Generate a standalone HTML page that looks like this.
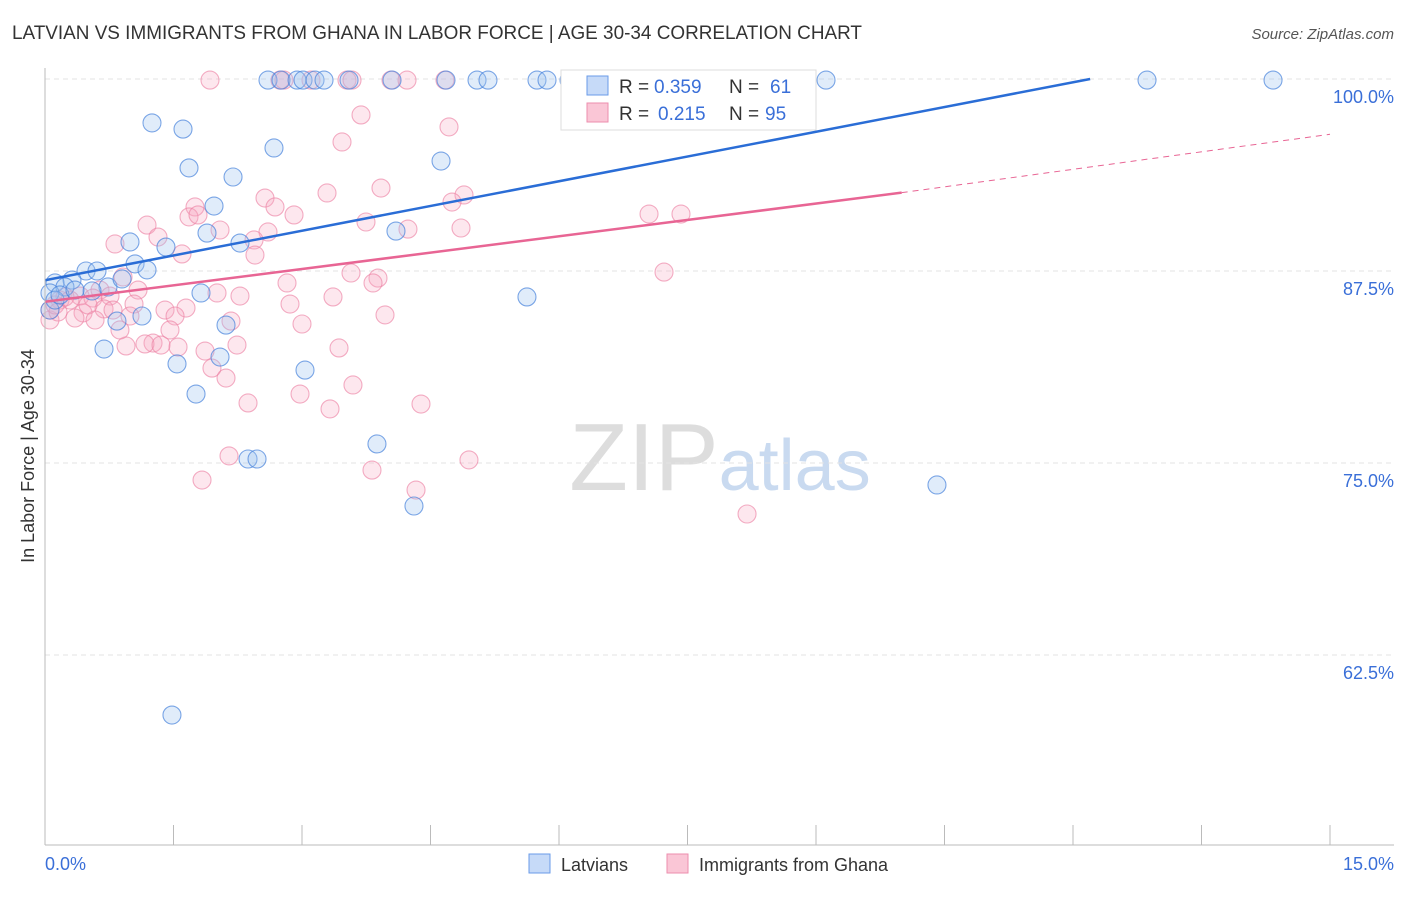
<!DOCTYPE html>
<html><head><meta charset="utf-8"><style>
body{margin:0;background:#fff;font-family:"Liberation Sans",sans-serif}
svg text{font-family:"Liberation Sans",sans-serif}
</style></head><body>
<svg id="chart" width="1406" height="892">
<text x="12" y="39" font-size="19" fill="#333" textLength="850" lengthAdjust="spacingAndGlyphs">LATVIAN VS IMMIGRANTS FROM GHANA IN LABOR FORCE | AGE 30-34 CORRELATION CHART</text>
<text x="1394" y="39" font-size="15" fill="#555" text-anchor="end" font-style="italic">Source: ZipAtlas.com</text>
<text x="34" y="456" font-size="18" fill="#333" text-anchor="middle" transform="rotate(-90 34 456)">In Labor Force | Age 30-34</text>
<text x="720" y="490" font-size="96" fill="#ddd" text-anchor="middle" font-family="Liberation Serif">ZIP<tspan fill="#c9daf0" font-family="Liberation Sans" font-size="72">atlas</tspan></text>
<g id="grid"></g><g id="pts"></g><g id="lines"></g>
<line x1="45" y1="68" x2="45" y2="845" stroke="#bbb"/>
<line x1="45" y1="845" x2="1394" y2="845" stroke="#bbb"/>
<text x="45" y="870" font-size="18" fill="#3a6fd8">0.0%</text>
<text x="1394" y="870" font-size="18" fill="#3a6fd8" text-anchor="end">15.0%</text>
<g>
<rect x="561" y="70" width="255" height="60" fill="#fff" stroke="#ddd"/>
<rect x="587" y="76" width="21" height="19" fill="#c6daf8" stroke="#6a9be8"/>
<rect x="587" y="103" width="21" height="19" fill="#fac6d6" stroke="#ec8eae"/>
<text x="619" y="93" font-size="19" fill="#333">R =</text>
<text x="654" y="93" font-size="19" fill="#3a6fd8">0.359</text>
<text x="729" y="93" font-size="19" fill="#333">N =</text>
<text x="770" y="93" font-size="19" fill="#3a6fd8">61</text>
<text x="619" y="120" font-size="19" fill="#333">R =</text>
<text x="658" y="120" font-size="19" fill="#3a6fd8">0.215</text>
<text x="729" y="120" font-size="19" fill="#333">N =</text>
<text x="765" y="120" font-size="19" fill="#3a6fd8">95</text>
</g>
<g>
<rect x="529" y="854" width="21" height="19" fill="#c6daf8" stroke="#6a9be8"/>
<text x="561" y="871" font-size="18" fill="#333">Latvians</text>
<rect x="667" y="854" width="21" height="19" fill="#fac6d6" stroke="#ec8eae"/>
<text x="699" y="871" font-size="18" fill="#333">Immigrants from Ghana</text>
</g>
</svg>
<script>
const yTicks=[100,87.5,75,62.5];
const yTickLabels=["100.0%","87.5%","75.0%","62.5%"];
const xTicks=[0,1.5,3,4.5,6,7.5,9,10.5,12,13.5,15];
const bluePx=[[152,123],[183,129],[189,168],[233,177],[274,148],[214,206],[207,233],[240,243],[130,242],[166,247],[135,264],[147,270],[86,271],[97,271],[72,280],[55,283],[65,287],[108,287],[122,279],[50,293],[92,291],[201,293],[117,321],[142,316],[226,325],[104,349],[220,357],[177,364],[305,370],[196,394],[377,444],[248,459],[257,459],[414,506],[172,715],[441,161],[396,231],[527,297],[937,485],[268,80],[281,80],[297,80],[303,80],[315,80],[324,80],[349,80],[392,80],[446,80],[477,80],[488,80],[537,80],[547,80],[569,80],[728,80],[826,80],[1147,80],[1273,80],[50,310],[55,300],[60,295],[75,290]];
const pinkPx=[[210,80],[280,80],[284,80],[311,80],[347,80],[352,80],[391,80],[407,80],[445,80],[638,80],[361,115],[342,142],[449,127],[327,193],[381,188],[464,195],[452,202],[265,198],[275,207],[294,215],[195,207],[189,217],[198,215],[147,225],[158,237],[115,244],[220,230],[366,222],[408,229],[461,228],[268,232],[254,240],[255,255],[182,254],[649,214],[681,214],[664,272],[351,273],[378,278],[373,283],[287,283],[217,293],[240,296],[333,297],[290,304],[123,277],[138,290],[100,290],[80,296],[93,298],[60,300],[110,296],[134,304],[104,309],[113,310],[165,310],[186,308],[83,313],[75,318],[130,316],[175,316],[231,321],[302,324],[385,315],[170,330],[153,343],[126,346],[145,344],[161,345],[178,347],[205,351],[237,345],[339,348],[212,368],[226,378],[353,385],[248,403],[300,394],[330,409],[421,404],[229,456],[202,480],[372,470],[469,460],[416,490],[747,514],[50,320],[50,310],[55,305],[65,297],[70,300],[88,305],[58,312],[95,320],[120,330]];
const blueX=bluePx.map(p=>+((p[0]-45)/1285*15).toFixed(3));
const blueY=bluePx.map(p=>+(100-(p[1]-79)/15.36).toFixed(2));
const pinkX=pinkPx.map(p=>+((p[0]-45)/1285*15).toFixed(3));
const pinkY=pinkPx.map(p=>+(100-(p[1]-79)/15.36).toFixed(2));
const blueTrend=[[0,86.9],[12.2,100]];
const pinkTrend=[[0,85.5],[10,92.6],[15,96.4]];
const NS="http://www.w3.org/2000/svg";
const sx=v=>45+v/15*1285, sy=v=>79+(100-v)*15.36;
function mk(t,a,p){const e=document.createElementNS(NS,t);for(const k in a)e.setAttribute(k,a[k]);p.appendChild(e);return e;}
const grid=document.getElementById('grid');
yTicks.forEach((t,i)=>{
 const l=mk('line',{x1:45,x2:1394,y1:sy(t),y2:sy(t),stroke:'#e3e3e3','stroke-dasharray':'5,4'},grid);
 
 
 const tx=mk('text',{x:1394,y:sy(t)+24,'font-size':18,fill:'#3a6fd8','text-anchor':'end'},grid);
 tx.textContent=yTickLabels[i];
 
 
});
xTicks.forEach(t=>{
 const l=mk('line',{x1:sx(t),x2:sx(t),y1:825,y2:845,stroke:'#bbb'},grid);
 
 
});
const pts=document.getElementById('pts');
pinkX.forEach((x,i)=>{
 const c=mk('circle',{cx:sx(x),cy:sy(pinkY[i]),r:9,fill:'rgba(247,170,195,0.28)',stroke:'rgba(236,130,165,0.65)','stroke-width':1.1},pts);
 
 
});
blueX.forEach((x,i)=>{
 const c=mk('circle',{cx:sx(x),cy:sy(blueY[i]),r:9,fill:'rgba(160,195,240,0.32)',stroke:'rgba(70,130,220,0.7)','stroke-width':1.1},pts);
 
 
});
const lines=document.getElementById('lines');
const bl=mk('line',{x1:sx(blueTrend[0][0]),y1:sy(blueTrend[0][1]),x2:sx(blueTrend[1][0]),y2:sy(blueTrend[1][1]),stroke:'#2a6dd6','stroke-width':2.5},lines);


const pl=mk('line',{x1:sx(pinkTrend[0][0]),y1:sy(pinkTrend[0][1]),x2:sx(pinkTrend[1][0]),y2:sy(pinkTrend[1][1]),stroke:'#e86594','stroke-width':2.5},lines);


const pd=mk('line',{x1:sx(pinkTrend[1][0]),y1:sy(pinkTrend[1][1]),x2:sx(pinkTrend[2][0]),y2:sy(pinkTrend[2][1]),stroke:'#e86594','stroke-width':1,'stroke-dasharray':'6,5'},lines);


</script>
</body></html>
